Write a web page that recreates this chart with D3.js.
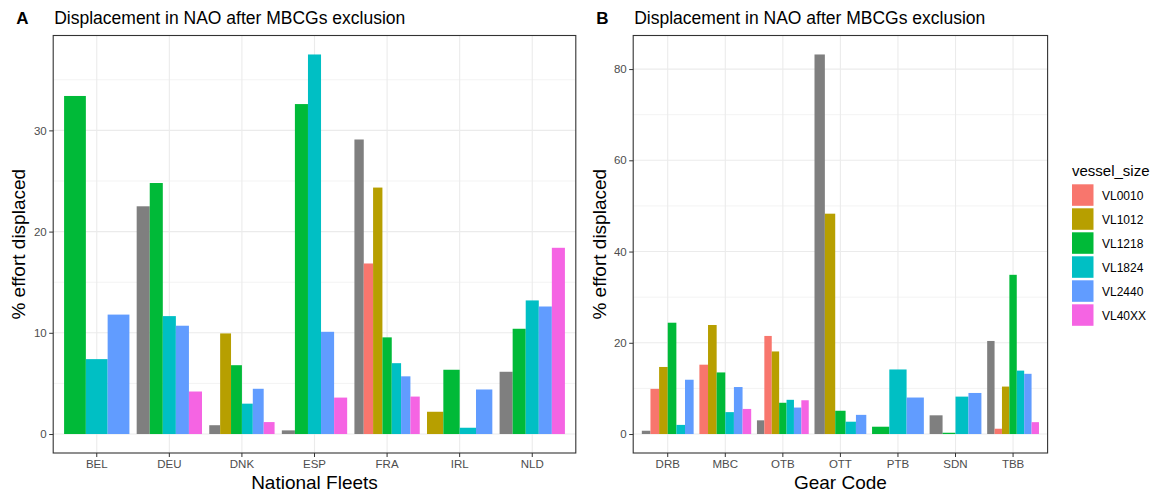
<!DOCTYPE html>
<html>
<head>
<meta charset="utf-8">
<script src="https://cdn.jsdelivr.net/npm/d3@7"></script>
<style>
  body { margin: 0; background: #fff; }
  text { font-family: "Liberation Sans", Arial, sans-serif; }
</style>
</head>
<body>
<script>
// vessel size classes (first one is the unlabelled grey group)
var sizes = ["NA", "VL0010", "VL1012", "VL1218", "VL1824", "VL2440", "VL40XX"];
var sizeColors = ["#7F7F7F", "#F8766D", "#B79F00", "#00BA38", "#00BFC4", "#619CFF", "#F564E3"];

// Panel A - national fleets
var fleets = ["BEL", "DEU", "DNK", "ESP", "FRA", "IRL", "NLD"];
var fleetNA     = [null, 22.5, 0.87, 0.36, 29.1, null, 6.15];
var fleetVL0010 = [null, null, null, null, 16.85, null, null];
var fleetVL1012 = [null, null, 9.94, null, 24.35, 2.2, null];
var fleetVL1218 = [33.4, 24.8, 6.8, 32.6, 9.55, 6.35, 10.4];
var fleetVL1824 = [7.4, 11.65, 3.0, 37.5, 7.0, 0.62, 13.2];
var fleetVL2440 = [11.8, 10.7, 4.47, 10.1, 5.7, 4.4, 12.6];
var fleetVL40XX = [null, 4.2, 1.18, 3.6, 3.7, null, 18.4];
var fleetTicks = [0, 10, 20, 30];

// Panel B - gear codes
var gears = ["DRB", "MBC", "OTB", "OTT", "PTB", "SDN", "TBB"];
var gearNA     = [0.72, null, 3.0, 83.2, null, 4.1, 20.4];
var gearVL0010 = [9.9, 15.2, 21.5, null, null, null, 1.16];
var gearVL1012 = [14.7, 23.9, 18.1, 48.3, null, null, 10.4];
var gearVL1218 = [24.4, 13.5, 6.85, 5.1, 1.6, 0.28, 34.9];
var gearVL1824 = [2.0, 4.8, 7.5, 2.7, 14.15, 8.2, 13.9];
var gearVL2440 = [11.9, 10.3, 5.8, 4.2, 8.0, 9.0, 13.2];
var gearVL40XX = [null, 5.5, 7.4, null, null, null, 2.6];
var gearTicks = [0, 20, 40, 60, 80];

var width = 1156,
    height = 495;

var svg = d3.select("body")
    .append("svg")
    .attr("width", width)
    .attr("height", height);

var color = d3.scaleOrdinal().domain(sizes).range(sizeColors);

// shared vertical extent of the two panels
var plotTop = 35.5,
    plotBottom = 453;

drawPanel({
    tag: "A",
    left: 53.2, right: 575.8,
    cats: fleets,
    series: [fleetNA, fleetVL0010, fleetVL1012, fleetVL1218, fleetVL1824, fleetVL2440, fleetVL40XX],
    ticks: fleetTicks,
    step: 10,
    xTitle: "National Fleets",
    yTitleX: 18
});

drawPanel({
    tag: "B",
    left: 633.2, right: 1047.6,
    cats: gears,
    series: [gearNA, gearVL0010, gearVL1012, gearVL1218, gearVL1824, gearVL2440, gearVL40XX],
    ticks: gearTicks,
    step: 20,
    xTitle: "Gear Code",
    yTitleX: 599
});

function drawPanel(p) {
    var g = svg.append("g");

    // rows of present bars per category
    var rows = p.cats.map(function(c, i) {
        var bars = [];
        sizes.forEach(function(s, j) {
            var v = p.series[j][i];
            if (v !== null) bars.push({ cat: c, size: s, value: v });
        });
        return { cat: c, bars: bars };
    });

    var maxV = d3.max(p.series, function(s) { return d3.max(s); });

    var x = d3.scaleBand()
        .domain(p.cats)
        .range([p.left, p.right])
        .paddingInner(0.1)
        .paddingOuter(0.15);

    var y = d3.scaleLinear()
        .domain([-0.05 * maxV, 1.05 * maxV])
        .range([plotBottom, plotTop]);

    // minor grid
    var minor = d3.range(p.step / 2, y.domain()[1], p.step);
    g.selectAll(".minor")
        .data(minor)
        .enter()
        .append("line")
        .attr("x1", p.left).attr("x2", p.right)
        .attr("y1", function(d) { return y(d); })
        .attr("y2", function(d) { return y(d); })
        .attr("stroke", "#F3F3F3")
        .attr("stroke-width", 1);

    // major grid
    g.selectAll(".major")
        .data(p.ticks)
        .enter()
        .append("line")
        .attr("x1", p.left).attr("x2", p.right)
        .attr("y1", function(d) { return y(d); })
        .attr("y2", function(d) { return y(d); })
        .attr("stroke", "#EBEBEB")
        .attr("stroke-width", 1.1);

    g.selectAll(".vgrid")
        .data(p.cats)
        .enter()
        .append("line")
        .attr("x1", function(d) { return x(d) + x.bandwidth() / 2; })
        .attr("x2", function(d) { return x(d) + x.bandwidth() / 2; })
        .attr("y1", plotTop).attr("y2", plotBottom)
        .attr("stroke", "#EBEBEB")
        .attr("stroke-width", 1.1);

    // dodged bars
    rows.forEach(function(r) {
        var inner = d3.scaleBand()
            .domain(r.bars.map(function(b) { return b.size; }))
            .range([x(r.cat), x(r.cat) + x.bandwidth()]);

        g.selectAll(null)
            .data(r.bars)
            .enter()
            .append("rect")
            .attr("x", function(b) { return inner(b.size); })
            .attr("width", inner.bandwidth())
            .attr("y", function(b) { return y(b.value); })
            .attr("height", function(b) { return y(0) - y(b.value); })
            .attr("fill", function(b) { return color(b.size); });
    });

    // panel border
    g.append("rect")
        .attr("x", p.left).attr("y", plotTop)
        .attr("width", p.right - p.left)
        .attr("height", plotBottom - plotTop)
        .attr("fill", "none")
        .attr("stroke", "#333333")
        .attr("stroke-width", 1.1);

    // axes
    var xAxis = g.append("g")
        .attr("transform", "translate(0," + plotBottom + ")")
        .call(d3.axisBottom(x).tickSize(4).tickPadding(3));

    var yAxis = g.append("g")
        .attr("transform", "translate(" + p.left + ",0)")
        .call(d3.axisLeft(y).tickValues(p.ticks).tickSize(4).tickPadding(2.5));

    [xAxis, yAxis].forEach(function(a) {
        a.select(".domain").remove();
        a.selectAll("line").attr("stroke", "#333333");
        a.selectAll("text")
            .attr("fill", "#4D4D4D")
            .style("font-size", "11.5px")
            .style("font-family", "'Liberation Sans', Arial, sans-serif");
    });

    // titles
    g.append("text")
        .attr("x", p.left - 37)
        .attr("y", 24)
        .style("font-size", "17px")
        .style("font-weight", "bold")
        .text(p.tag);

    g.append("text")
        .attr("x", p.left + 1)
        .attr("y", 24)
        .style("font-size", "17.5px")
        .text("Displacement in NAO after MBCGs exclusion");

    g.append("text")
        .attr("x", (p.left + p.right) / 2)
        .attr("y", 489)
        .attr("text-anchor", "middle")
        .style("font-size", "19px")
        .text(p.xTitle);

    g.append("text")
        .attr("transform", "translate(" + (p.yTitleX + 6.5) + "," + ((plotTop + plotBottom) / 2) + ") rotate(-90)")
        .attr("text-anchor", "middle")
        .style("font-size", "19px")
        .text("% effort displaced");
}

// legend (grey group has no entry)
var legendSizes = sizes.slice(1);
var legend = svg.append("g")
    .attr("transform", "translate(1072,0)");

legend.append("text")
    .attr("x", 0)
    .attr("y", 176)
    .style("font-size", "15px")
    .text("vessel_size");

var items = legend.selectAll(".item")
    .data(legendSizes)
    .enter()
    .append("g")
    .attr("transform", function(d, i) { return "translate(0," + (184.3 + i * 24) + ")"; });

items.append("rect")
    .attr("width", 21.5)
    .attr("height", 21.5)
    .attr("fill", function(d) { return color(d); });

items.append("text")
    .attr("x", 30)
    .attr("y", 15.3)
    .style("font-size", "12px")
    .text(function(d) { return d; });
</script>
</body>
</html>
